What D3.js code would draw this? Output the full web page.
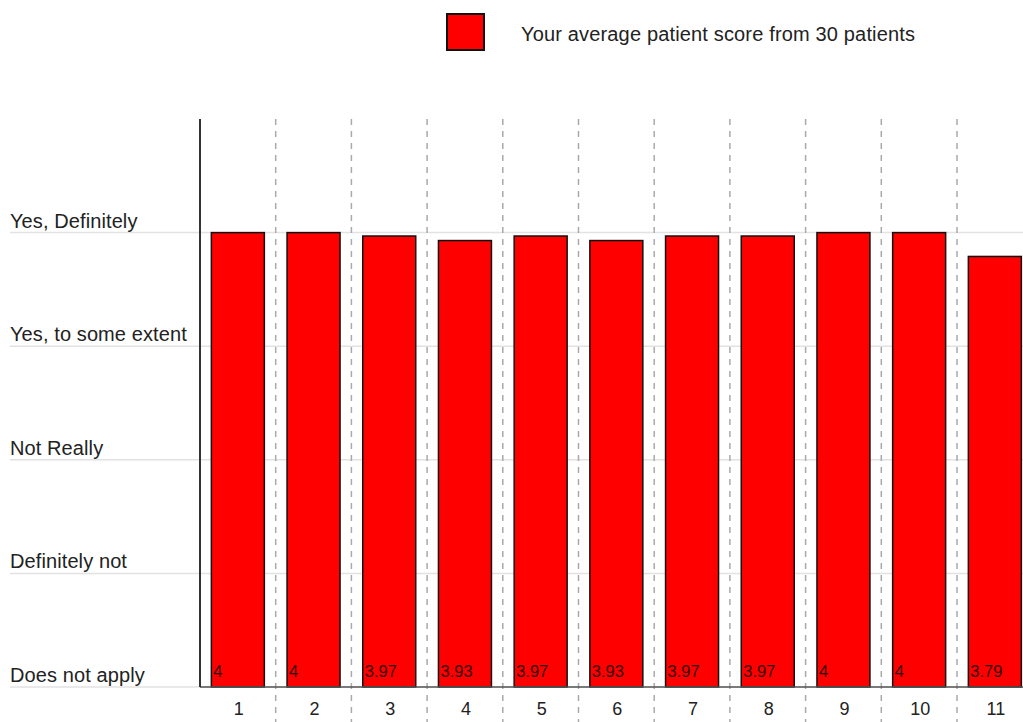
<!DOCTYPE html>
<html>
<head>
<meta charset="utf-8">
<script src="https://cdn.jsdelivr.net/npm/d3@7"></script>
<style>
  html, body { margin: 0; padding: 0; background: #fff; }
  svg { display: block; font-family: "Liberation Sans", Arial, sans-serif; }
</style>
</head>
<body>
<svg id="chart" width="1023" height="722"></svg>
<script>
const categories = ["1", "2", "3", "4", "5", "6", "7", "8", "9", "10", "11"];
const values = [4, 4, 3.97, 3.93, 3.97, 3.93, 3.97, 3.97, 4, 4, 3.79];
const valueLabels = ["4", "4", "3.97", "3.93", "3.97", "3.93", "3.97", "3.97", "4", "4", "3.79"];
const yTickValues = [0, 1, 2, 3, 4];
const yTickLabels = ["Does not apply", "Definitely not", "Not Really", "Yes, to some extent", "Yes, Definitely"];
const legendLabel = "Your average patient score from 30 patients";

(function () {
const svg = d3.select("#chart");
const W = 1023, H = 722;
const mLeft = 200, mTop = 119, mBottom = 687;
const band = 75.7;
const mRight = mLeft + band * categories.length;

const x = d3.scaleBand().domain(categories).range([mLeft, mRight]).paddingInner(0.3).paddingOuter(0.15);
const y = d3.scaleLinear().domain([0, 5]).range([mBottom, mTop]);

// horizontal gridlines
svg.append("g").selectAll("line").data(yTickValues).join("line")
  .attr("x1", 10).attr("x2", W)
  .attr("y1", d => y(d)).attr("y2", d => y(d))
  .attr("stroke", "#e2e2e2").attr("stroke-width", 1.5);

// y labels
svg.append("g").selectAll("text").data(yTickValues).join("text")
  .attr("x", 10).attr("y", d => y(d) - 5)
  .attr("font-size", 20).attr("letter-spacing", 0.1).attr("fill", "#222")
  .text((d, i) => yTickLabels[i]);

// dashed vertical separators
const seps = d3.range(1, categories.length).map(i => mLeft + (mRight - mLeft) * i / categories.length);
svg.append("g").selectAll("line").data(seps).join("line")
  .attr("x1", d => d).attr("x2", d => d)
  .attr("y1", mTop).attr("y2", H)
  .attr("stroke", "#aaa").attr("stroke-width", 1.5)
  .attr("stroke-dasharray", "6,6");

// bars
svg.append("g").selectAll("rect").data(values).join("rect")
  .attr("x", (d, i) => x(categories[i]))
  .attr("width", x.bandwidth())
  .attr("y", d => y(d))
  .attr("height", d => y(0) - y(d))
  .attr("fill", "#ff0000").attr("stroke", "#111").attr("stroke-width", 1.5);

// value labels
svg.append("g").selectAll("text").data(values).join("text")
  .attr("x", (d, i) => x(categories[i]) + 2)
  .attr("y", mBottom - 10)
  .attr("font-size", 16.5).attr("fill", "#300")
  .text((d, i) => valueLabels[i]);

// axes lines
svg.append("line").attr("x1", mLeft).attr("x2", W).attr("y1", mBottom).attr("y2", mBottom)
  .attr("stroke", "#555").attr("stroke-width", 1.5);
svg.append("line").attr("x1", mLeft).attr("x2", mLeft).attr("y1", mTop).attr("y2", mBottom)
  .attr("stroke", "#333").attr("stroke-width", 2);

// x tick labels
svg.append("g").selectAll("text").data(categories).join("text")
  .attr("x", d => x(d) + x.bandwidth() / 2 + 1)
  .attr("y", 715)
  .attr("text-anchor", "middle")
  .attr("font-size", 18).attr("fill", "#222")
  .text(d => d);

// legend
svg.append("rect").attr("x", 447).attr("y", 14).attr("width", 37).attr("height", 36)
  .attr("fill", "#ff0000").attr("stroke", "#111").attr("stroke-width", 2);
svg.append("text").attr("x", 521).attr("y", 41)
  .attr("font-size", 20).attr("letter-spacing", 0.16).attr("fill", "#222").text(legendLabel);
})();
</script>
</body>
</html>
